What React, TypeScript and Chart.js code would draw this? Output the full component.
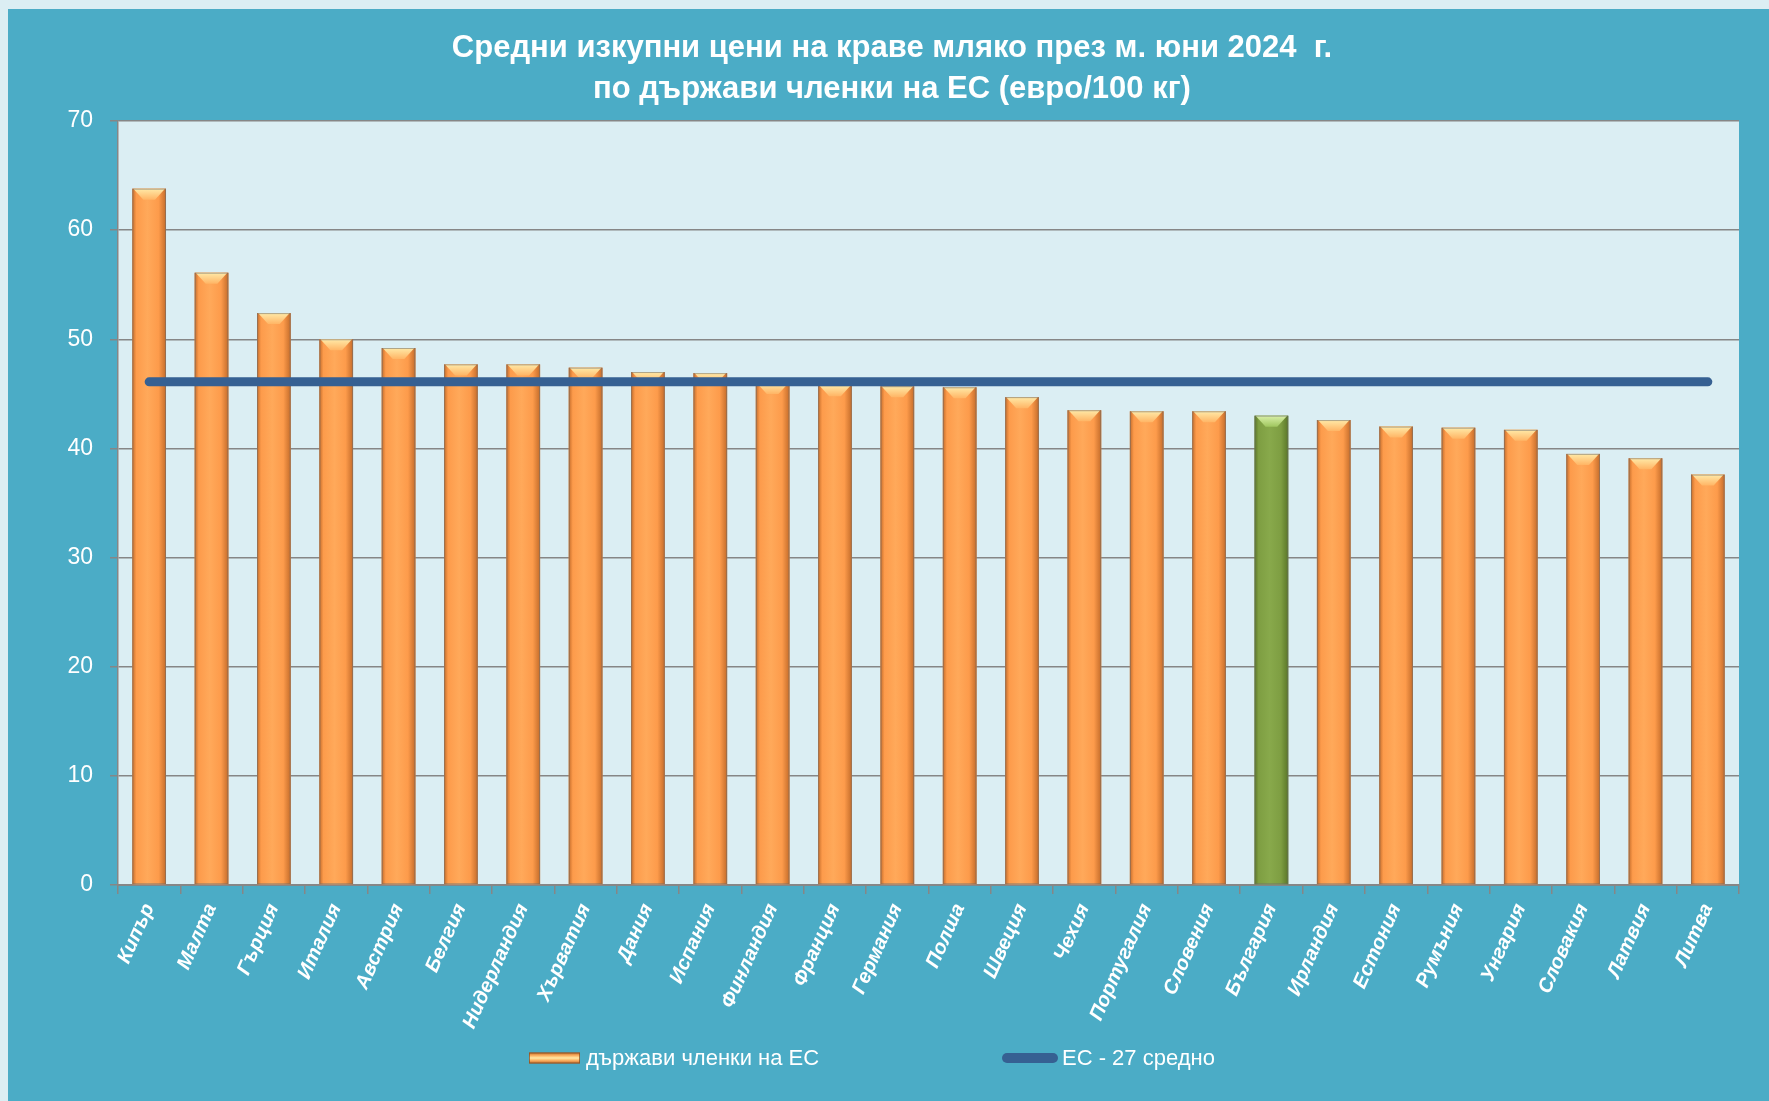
import { useEffect, useRef } from "react";
import { Chart, registerables } from "chart.js";

Chart.register(...registerables);

const titleLines = [
  "Средни изкупни цени на краве мляко през м. юни 2024  г.",
  "по държави членки на ЕС (евро/100 кг)",
];

const countries = [
  "Кипър", "Малта", "Гърция", "Италия", "Австрия", "Белгия", "Нидерландия",
  "Хърватия", "Дания", "Испания", "Финландия", "Франция", "Германия", "Полша",
  "Швеция", "Чехия", "Португалия", "Словения", "България", "Ирландия",
  "Естония", "Румъния", "Унгария", "Словакия", "Латвия", "Литва",
];

const prices = [
  63.8, 56.1, 52.4, 50.0, 49.2, 47.7, 47.7, 47.4, 47.0, 46.9, 46.0, 45.8, 45.7,
  45.6, 44.7, 43.5, 43.4, 43.4, 43.0, 42.6, 42.0, 41.9, 41.7, 39.5, 39.1, 37.6,
];

const euAverage = [
  46.1, 46.1, 46.1, 46.1, 46.1, 46.1, 46.1, 46.1, 46.1, 46.1, 46.1, 46.1, 46.1,
  46.1, 46.1, 46.1, 46.1, 46.1, 46.1, 46.1, 46.1, 46.1, 46.1, 46.1, 46.1, 46.1,
];

const highlightCountry = "България";
const barSeriesLabel = "държави членки на ЕС";
const lineSeriesLabel = "ЕС - 27 средно";
const yMin = 0;
const yMax = 70;
const yStep = 10;

const NARROW = "'Liberation Sans Narrow', 'Arial Narrow', 'Liberation Sans', sans-serif";
const SANS = "'Liberation Sans', Arial, sans-serif";
const PAGE_BG = "#dbeef3";
const PANEL = "#4bacc6";
const PLOT_BG = "#dbeef3";
const GRID = "#868686";
const LINE_COLOR = "#366092";

const orangeStyle = { dark: "#c46c2a", base: "#fd9b4b", light: "#ffa95a", bevelTop: "#ffeaa8", bevelBottom: "#ffb565" };
const greenStyle = { dark: "#5a7629", base: "#7e9e42", light: "#88a94b", bevelTop: "#d9f0a8", bevelBottom: "#a0c65f" };

function styleFor(index: number) {
  return countries[index] === highlightCountry ? greenStyle : orangeStyle;
}

function drawBevelBar(ctx: CanvasRenderingContext2D, left: number, right: number, top: number, bottom: number, st: typeof orangeStyle) {
  const w = right - left;
  const h = bottom - top;
  if (w <= 0 || h <= 0) return;
  const g = ctx.createLinearGradient(left, 0, right, 0);
  g.addColorStop(0, st.dark);
  g.addColorStop(0.12, st.base);
  g.addColorStop(0.45, st.light);
  g.addColorStop(0.78, st.base);
  g.addColorStop(1, st.dark);
  ctx.fillStyle = g;
  ctx.fillRect(left, top, w, h);
  const bev = Math.min(11, h / 2, w / 3);
  const bg = ctx.createLinearGradient(0, top, 0, top + bev);
  bg.addColorStop(0, st.bevelTop);
  bg.addColorStop(1, st.bevelBottom);
  ctx.fillStyle = bg;
  ctx.beginPath();
  ctx.moveTo(left + 1, top);
  ctx.lineTo(right - 1, top);
  ctx.lineTo(right - bev, top + bev);
  ctx.lineTo(left + bev, top + bev);
  ctx.closePath();
  ctx.fill();
  ctx.strokeStyle = "rgba(110,110,110,0.55)";
  ctx.lineWidth = 1;
  ctx.strokeRect(left + 0.5, top + 0.5, w - 1, h - 1);
}

const backgroundPlugin = {
  id: "panelBackground",
  beforeDraw(chart: any) {
    const { ctx, width, height, chartArea } = chart;
    ctx.save();
    ctx.fillStyle = PAGE_BG;
    ctx.fillRect(0, 0, width, height);
    ctx.fillStyle = PANEL;
    ctx.fillRect(8, 9, width - 8, height - 9);
    ctx.fillStyle = PLOT_BG;
    ctx.fillRect(chartArea.left, chartArea.top, chartArea.right - chartArea.left, chartArea.bottom - chartArea.top);
    ctx.restore();
  },
};

const bevelBarPlugin = {
  id: "bevelBars",
  afterDatasetDraw(chart: any, args: any) {
    const meta = args.meta;
    if (meta.type !== "bar") return;
    const ctx = chart.ctx;
    ctx.save();
    meta.data.forEach((el: any, i: number) => {
      const p = el.getProps(["x", "y", "base", "width"], true);
      drawBevelBar(ctx, p.x - p.width / 2, p.x + p.width / 2, p.y, p.base, styleFor(i));
    });
    ctx.restore();
  },
};

const legendPlugin = {
  id: "customLegend",
  afterDraw(chart: any) {
    const ctx = chart.ctx;
    const cy = 1058;
    ctx.save();
    ctx.font = `22px ${NARROW}`;
    ctx.fillStyle = "#ffffff";
    ctx.textBaseline = "middle";
    ctx.textAlign = "left";
    // bar swatch
    const sx = 529, sw = 51, sh = 11;
    const g = ctx.createLinearGradient(0, cy - sh / 2, 0, cy + sh / 2);
    g.addColorStop(0, orangeStyle.dark);
    g.addColorStop(0.3, orangeStyle.bevelBottom);
    g.addColorStop(0.5, orangeStyle.bevelTop);
    g.addColorStop(0.7, orangeStyle.bevelBottom);
    g.addColorStop(1, orangeStyle.dark);
    ctx.fillStyle = g;
    ctx.fillRect(sx, cy - sh / 2, sw, sh);
    ctx.strokeStyle = "rgba(120,70,30,0.7)";
    ctx.lineWidth = 1;
    ctx.strokeRect(sx + 0.5, cy - sh / 2 + 0.5, sw - 1, sh - 1);
    ctx.fillStyle = "#ffffff";
    ctx.fillText(chart.data.datasets[1].label, sx + sw + 6, cy + 1);
    // line swatch
    const lx1 = 1007, lx2 = 1053;
    ctx.strokeStyle = LINE_COLOR;
    ctx.lineWidth = 10;
    ctx.lineCap = "round";
    ctx.beginPath();
    ctx.moveTo(lx1, cy);
    ctx.lineTo(lx2, cy);
    ctx.stroke();
    ctx.fillText(chart.data.datasets[0].label, 1062, cy + 1);
    ctx.restore();
  },
};

export default function App() {
  const canvasRef = useRef<HTMLCanvasElement | null>(null);

  useEffect(() => {
    document.body.style.margin = "0";
    const canvas = canvasRef.current;
    if (!canvas) return;
    const chart = new Chart(canvas, {
      type: "bar",
      data: {
        labels: countries,
        datasets: [
          {
            type: "line",
            label: lineSeriesLabel,
            data: euAverage,
            borderColor: LINE_COLOR,
            backgroundColor: LINE_COLOR,
            borderWidth: 9,
            borderCapStyle: "round",
            pointRadius: 0,
            pointHoverRadius: 0,
            fill: false,
            order: 0,
          } as any,
          {
            type: "bar",
            label: barSeriesLabel,
            data: prices,
            backgroundColor: countries.map((_, i) => styleFor(i).base),
            borderWidth: 0,
            barPercentage: 0.9,
            categoryPercentage: 0.6,
            order: 1,
          } as any,
        ],
      },
      options: {
        responsive: false,
        animation: false,
        layout: { padding: { left: 45, right: 30, top: 0, bottom: 0 } },
        plugins: {
          legend: { display: false },
          tooltip: { enabled: false },
          title: {
            display: true,
            text: titleLines,
            color: "#ffffff",
            font: { family: NARROW, size: 31, weight: "bold", lineHeight: "41px" } as any,
            padding: { top: 28, bottom: 11 },
          },
        },
        scales: {
          x: {
            offset: true,
            grid: {
              display: true,
              drawOnChartArea: false,
              drawTicks: true,
              tickLength: 9,
              color: GRID,
              lineWidth: 1.5,
            },
            border: { display: true, color: GRID, width: 2 },
            ticks: {
              autoSkip: false,
              maxRotation: 66,
              minRotation: 66,
              color: "#ffffff",
              padding: 6,
              font: { family: SANS, size: 20, weight: "bold", style: "italic" },
            },
            afterFit(scale: any) {
              scale.height = 216;
            },
          },
          y: {
            min: yMin,
            max: yMax,
            ticks: {
              stepSize: yStep,
              color: "#ffffff",
              padding: 17,
              font: { family: NARROW, size: 23 },
            },
            grid: { color: GRID, lineWidth: 1.5, tickLength: 8 },
            border: { display: true, color: GRID, width: 1.5 },
            afterFit(scale: any) {
              scale.width = 73;
            },
          },
        },
      },
      plugins: [backgroundPlugin, bevelBarPlugin, legendPlugin],
    });
    return () => chart.destroy();
  }, []);

  return (
    <div style={{ width: 1769, height: 1101 }}>
      <canvas ref={canvasRef} width={1769} height={1101} style={{ display: "block" }} />
    </div>
  );
}
